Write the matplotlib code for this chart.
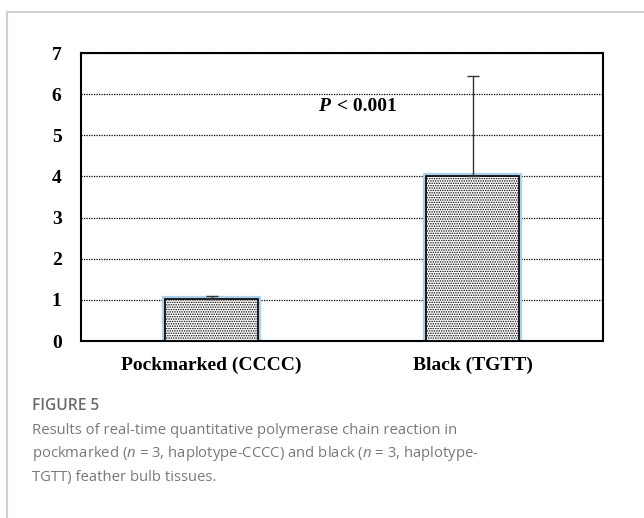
import matplotlib.pyplot as plt
import matplotlib.lines as mlines

groups = ["Pockmarked (CCCC)", "Black (TGTT)"]
means = [1.01, 4.02]
errs_up = [0.08, 2.42]
yticks = [0, 1, 2, 3, 4, 5, 6, 7]

plt.rcParams['hatch.linewidth'] = 0.7
plt.rcParams['hatch.color'] = '#2a2a2a'
plt.rcParams['mathtext.fontset'] = 'custom'
plt.rcParams['mathtext.it'] = 'Open Sans:italic'
plt.rcParams['mathtext.rm'] = 'Open Sans'

fig = plt.figure(figsize=(6.44, 5.18), dpi=100)

# card border (light gray top and left)
fig.add_artist(mlines.Line2D([7 / 644, 1], [1 - 12 / 518, 1 - 12 / 518],
                             transform=fig.transFigure, color='#cfcfcf', lw=1.5))
fig.add_artist(mlines.Line2D([7 / 644, 7 / 644], [0, 1 - 12 / 518],
                             transform=fig.transFigure, color='#cfcfcf', lw=1.5))

ax = fig.add_axes([81 / 644, 1 - 341 / 518, 522 / 644, 288 / 518])

x = range(len(groups))
# faint blue glow around bars
ax.bar(x, means, width=0.355, color='none', edgecolor='#add0ec', linewidth=4.5, zorder=2)
ax.bar(x, means, width=0.355, color='white', edgecolor='black', linewidth=1.2,
       hatch='.......', zorder=3)
ax.errorbar(x, means, yerr=[[0] * len(means), errs_up], fmt='none',
            ecolor='#333333', elinewidth=1.0, capsize=4, capthick=1.0, zorder=4)

ax.set_xlim(-0.5, 1.5)
ax.set_ylim(0, 7)
ax.set_yticks(yticks)
ax.set_xticks(list(x))
ax.set_xticklabels(groups)
for lab in ax.get_xticklabels() + ax.get_yticklabels():
    lab.set_fontfamily('Liberation Serif')
    lab.set_fontweight('bold')
    lab.set_fontsize(14)
ax.tick_params(axis='both', length=0)
ax.tick_params(axis='y', pad=14)
ax.tick_params(axis='x', pad=11)

ax.yaxis.grid(True, linestyle=(0, (1, 1)), color='black', linewidth=0.9)
ax.set_axisbelow(True)
for s in ax.spines.values():
    s.set_linewidth(1.5)

ax.text(0.455, 5.7, 'P', ha='right', va='center', fontsize=14, fontweight='bold',
        style='italic', family='Liberation Serif')
ax.text(0.46, 5.7, ' < 0.001', ha='left', va='center', fontsize=14,
        fontweight='bold', family='Liberation Serif')

fig.text(32 / 644, 1 - 406 / 518, "FIGURE 5", fontsize=11.2, fontweight='semibold',
         color='#6a6a6a', family='Open Sans', va='center')
caption = [
    "Results of real-time quantitative polymerase chain reaction in",
    r"pockmarked ($n$ = 3, haplotype-CCCC) and black ($n$ = 3, haplotype-",
    "TGTT) feather bulb tissues.",
]
for i, line in enumerate(caption):
    fig.text(32 / 644, 1 - (430 + 23.5 * i) / 518, line, fontsize=10.7,
             color='#787878', family='Open Sans', va='center')

fig.savefig("out.png", dpi=100)
